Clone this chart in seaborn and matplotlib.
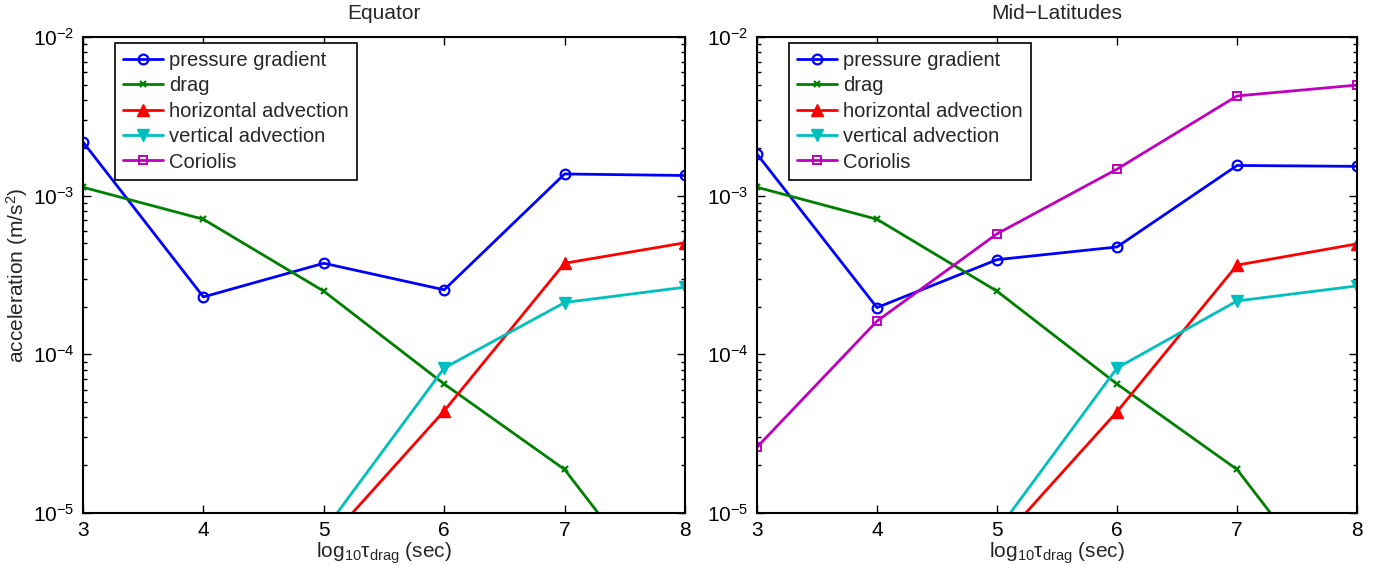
import numpy as np
import pandas as pd
import matplotlib
matplotlib.use("Agg")
import matplotlib.pyplot as plt
from matplotlib.lines import Line2D
from matplotlib.ticker import LogLocator, NullFormatter
import seaborn as sns

# log10 of the drag timescale (sec)
log_tau = [3, 4, 5, 6, 7, 8]

# Equator: acceleration terms (m/s^2); NaN where a term is absent/zero
eq_pressure = [2.18e-3, 2.3e-4, 3.75e-4, 2.55e-4, 1.37e-3, 1.34e-3]
eq_drag = [1.13e-3, 7.1e-4, 2.5e-4, 6.5e-5, 1.88e-5, 1.95e-6]
eq_hadv = [np.nan, np.nan, 6.3e-6, 4.4e-5, 3.75e-4, 5.05e-4]
eq_vadv = [np.nan, np.nan, 7.7e-6, 8.2e-5, 2.12e-4, 2.65e-4]
eq_coriolis = [np.nan] * 6

# Mid-latitudes: acceleration terms (m/s^2)
ml_pressure = [1.83e-3, 1.97e-4, 3.95e-4, 4.75e-4, 1.55e-3, 1.53e-3]
ml_drag = [1.13e-3, 7.1e-4, 2.5e-4, 6.5e-5, 1.88e-5, 1.95e-6]
ml_hadv = [np.nan, np.nan, 6.3e-6, 4.35e-5, 3.65e-4, 4.97e-4]
ml_vadv = [np.nan, np.nan, 7.7e-6, 8.2e-5, 2.17e-4, 2.7e-4]
ml_coriolis = [2.6e-5, 1.62e-4, 5.75e-4, 1.47e-3, 4.25e-3, 4.98e-3]

series_names = ["pressure gradient", "drag", "horizontal advection",
                "vertical advection", "Coriolis"]

styles = {
    "pressure gradient": dict(color=(0, 0, 1), marker="o", mfc="none", ms=7, mew=1.6),
    "drag": dict(color=(0, 0.5, 0), marker="x", mfc=(0, 0.5, 0), ms=5, mew=1.6),
    "horizontal advection": dict(color=(1, 0, 0), marker="^", mfc=(1, 0, 0), ms=8, mew=1.0),
    "vertical advection": dict(color=(0, 0.75, 0.75), marker="v", mfc=(0, 0.75, 0.75), ms=8, mew=1.0),
    "Coriolis": dict(color=(0.75, 0, 0.75), marker="s", mfc="none", ms=6, mew=1.4),
}

FS = 15

sns.set_style("ticks")
plt.rcParams["font.family"] = ["Liberation Sans", "DejaVu Sans"]
plt.rcParams["mathtext.fontset"] = "custom"
plt.rcParams["mathtext.rm"] = "Liberation Sans"
plt.rcParams["mathtext.it"] = "Liberation Sans:italic"
plt.rcParams["mathtext.default"] = "regular"

fig = plt.figure(figsize=(13.9, 5.71), dpi=100)
ax_eq = fig.add_axes([0.0597, 0.1016, 0.4331, 0.8336])
ax_ml = fig.add_axes([0.5446, 0.1016, 0.4317, 0.8336])

panels = [
    (ax_eq, "Equator", [eq_pressure, eq_drag, eq_hadv, eq_vadv, eq_coriolis]),
    (ax_ml, "Mid\u2212Latitudes", [ml_pressure, ml_drag, ml_hadv, ml_vadv, ml_coriolis]),
]

for ax, title, values in panels:
    ax.set_yscale("log")
    for name, vals in zip(series_names, values):
        df = pd.DataFrame({"x": log_tau, "y": vals}).dropna()
        if df.empty:
            continue
        st = styles[name]
        sns.lineplot(data=df, x="x", y="y", ax=ax, color=st["color"],
                     marker=st["marker"], markerfacecolor=st["mfc"],
                     markeredgecolor=st["color"], markersize=st["ms"],
                     markeredgewidth=st["mew"], linewidth=2.0, sort=False,
                     estimator=None, legend=False)

    ax.set_xlim(3, 8)
    ax.set_ylim(1e-5, 1e-2)
    ax.set_xticks(log_tau)
    ax.yaxis.set_major_locator(LogLocator(base=10, numticks=10))
    ax.yaxis.set_minor_locator(LogLocator(base=10, subs=np.arange(2, 10), numticks=20))
    ax.yaxis.set_minor_formatter(NullFormatter())
    ax.tick_params(which="both", direction="in", top=True, right=True,
                   labelsize=FS, width=1.0, colors="black")
    ax.tick_params(which="major", length=6, pad=6)
    ax.tick_params(which="minor", length=3)
    for sp in ax.spines.values():
        sp.set_linewidth(1.5)
        sp.set_color("black")
        sp.set_visible(True)

    ax.set_title(title, fontsize=FS, pad=13)
    ax.set_xlabel(r"log$_{10}$$\tau_{drag}$ (sec)", fontsize=FS, labelpad=0)
    ax.set_ylabel("")

    handles = []
    for name in series_names:
        st = styles[name]
        handles.append(Line2D([], [], color=st["color"], marker=st["marker"],
                              markerfacecolor=st["mfc"], markeredgecolor=st["color"],
                              markersize=st["ms"], markeredgewidth=st["mew"],
                              linewidth=2.0))
    leg = ax.legend(handles, series_names, loc="upper left",
                    bbox_to_anchor=(0.053, 0.988), fontsize=14.5, frameon=True,
                    fancybox=False, framealpha=1, edgecolor="black",
                    borderpad=0.4, labelspacing=0.32, handlelength=2.0,
                    handletextpad=0.3, borderaxespad=0)
    leg.get_frame().set_linewidth(1.2)

ax_eq.set_ylabel("acceleration (m/s$^2$)", fontsize=FS, labelpad=2)

fig.savefig("out.png", dpi=100)
